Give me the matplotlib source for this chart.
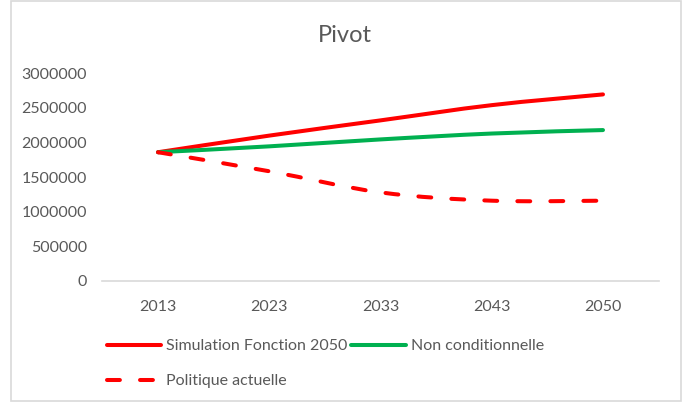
#!/usr/bin/env python3
# -*- coding: utf-8 -*-
"""
Pivot scenario: smoothed line chart of the three projections (2013-2050).
"""

import matplotlib
matplotlib.use('Agg')
import matplotlib.pyplot as plt
from matplotlib.path import Path
from matplotlib.patches import PathPatch, Rectangle
from matplotlib.lines import Line2D

# Data
years = ['2013', '2023', '2033', '2043', '2050']
simulation_2050 = [1860000, 2100000, 2320000, 2540000, 2695000]
non_conditionnelle = [1860000, 1945000, 2045000, 2130000, 2180000]
politique_actuelle = [1860000, 1585000, 1280000, 1160000, 1160000]
y_ticks = [0, 500000, 1000000, 1500000, 2000000, 2500000, 3000000]

TEXT_COLOR = '#595959'
GRID_COLOR = '#d9d9d9'
RED = '#ff0000'
GREEN = '#00b050'
LW = 2.9
DASHES = (3.2, 5.0)

plt.rcParams['font.family'] = ['Lato', 'DejaVu Sans']


def smooth_path(values):
    """Cubic Bezier path through the points (Catmull-Rom style control points)."""
    pts = [(float(i), float(v)) for i, v in enumerate(values)]
    n = len(pts)
    verts = [pts[0]]
    codes = [Path.MOVETO]
    for i in range(n - 1):
        p0 = pts[max(i - 1, 0)]
        p1 = pts[i]
        p2 = pts[i + 1]
        p3 = pts[min(i + 2, n - 1)]
        c1 = (p1[0] + (p2[0] - p0[0]) / 6.0, p1[1] + (p2[1] - p0[1]) / 6.0)
        c2 = (p2[0] - (p3[0] - p1[0]) / 6.0, p2[1] - (p3[1] - p1[1]) / 6.0)
        verts += [c1, c2, p2]
        codes += [Path.CURVE4, Path.CURVE4, Path.CURVE4]
    return Path(verts, codes)


def add_curve(ax, values, color, dashed=False):
    patch = PathPatch(smooth_path(values), fill=False, edgecolor=color, lw=LW,
                      capstyle='round', joinstyle='round',
                      linestyle=(0, DASHES) if dashed else '-')
    ax.add_patch(patch)


fig = plt.figure(figsize=(6.88, 4.05), dpi=100)
fig.patch.set_facecolor('white')

# Chart frame
fig.patches.append(Rectangle((10.5 / 688, 1 - 400.5 / 405), 670 / 688, 399.5 / 405,
                             transform=fig.transFigure, fill=False,
                             edgecolor=GRID_COLOR, lw=1.2))

ax = fig.add_axes([102.4 / 688, 1 - 281 / 405, 556.2 / 688, 207.7 / 405])

add_curve(ax, simulation_2050, RED)
add_curve(ax, non_conditionnelle, GREEN)
add_curve(ax, politique_actuelle, RED, dashed=True)

ax.set_xlim(-0.5, len(years) - 0.5)
ax.set_ylim(0, 3000000)
ax.set_xticks(range(len(years)))
ax.set_xticklabels(years)
ax.set_yticks(y_ticks)
ax.set_yticklabels([str(t) for t in y_ticks])
ax.tick_params(axis='both', length=0, labelsize=11.5, labelcolor=TEXT_COLOR)
ax.tick_params(axis='x', pad=14)
ax.tick_params(axis='y', pad=11)

for side in ['top', 'right', 'left']:
    ax.spines[side].set_visible(False)
ax.spines['bottom'].set_color(GRID_COLOR)
ax.spines['bottom'].set_linewidth(1.2)

fig.text(345 / 688, 1 - 35 / 405, 'Pivot', ha='center', va='center',
         fontsize=17, color=TEXT_COLOR)

# Legend: two columns, dashed series under the first one
handles = [
    Line2D([], [], color=RED, lw=LW, solid_capstyle='round'),
    Line2D([], [], color=RED, lw=LW, dash_capstyle='round', linestyle=(0, DASHES)),
    Line2D([], [], color=GREEN, lw=LW, solid_capstyle='round'),
]
labels = ['Simulation Fonction 2050', 'Politique actuelle', 'Non conditionnelle']
leg = fig.legend(handles, labels, ncol=2, loc='upper left',
                 bbox_to_anchor=(107 / 688, 1 - 339 / 405), bbox_transform=fig.transFigure,
                 frameon=False, fontsize=11.5, handlelength=3.4, handletextpad=0.3,
                 columnspacing=0.25, labelspacing=1.3, borderpad=0, borderaxespad=0)
for t in leg.get_texts():
    t.set_color(TEXT_COLOR)

fig.savefig('out.png', dpi=100, facecolor='white')
